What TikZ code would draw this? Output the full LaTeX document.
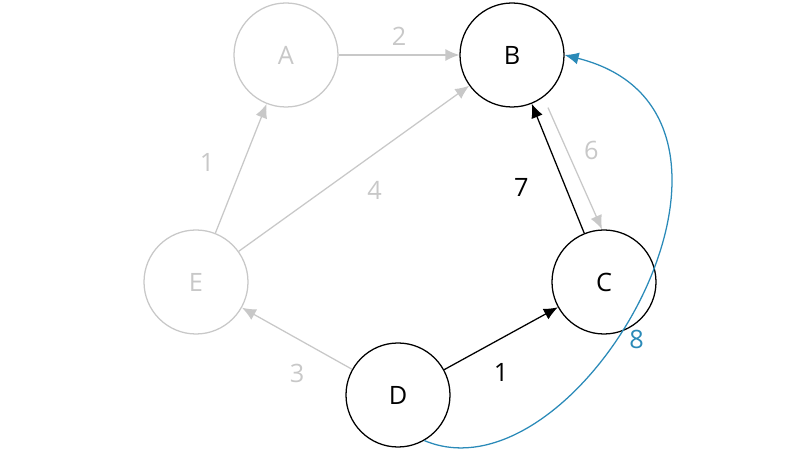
\documentclass[tikz,border=0pt]{standalone}
\usepackage{fontspec}
\setmainfont{Open Sans}
\usetikzlibrary{arrows.meta}
\definecolor{faded}{HTML}{C8C8C8}
\definecolor{hilite}{HTML}{2A8AB8}
\tikzset{%
  vertex/.style = {circle, draw, minimum size=2.6cm, inner sep=0pt,%
                   line width=0.9pt, font=\fontsize{18}{20}\selectfont},%
  ghost/.style  = {vertex, draw=faded, text=faded},%
  link/.style   = {-{Latex[length=3.5mm,width=3mm]}, line width=0.9pt},%
  dim/.style    = {link, draw=faded},%
  weight/.style = {font=\fontsize{18}{20}\selectfont}%
}
\begin{document}
\begin{tikzpicture}
	\useasboundingbox (0,0) rectangle (20,11.35);
	\node [ghost]  (A) at (7.15,9.975) {A};
	\node [vertex] (B) at (12.8,9.975) {B};
	\node [ghost]  (E) at (4.9,4.3)    {E};
	\node [vertex] (C) at (15.1,4.3)   {C};
	\node [vertex] (D) at (9.95,1.475) {D};
	% faded edges
	\draw [dim] (A) -- node [weight, above=1mm, text=faded] {2} (B);
	\draw [dim] (E) -- node [weight, left=6mm, pos=0.55, text=faded] {1} (A);
	\draw [dim] (E) -- node [weight, below right=2mm, text=faded] {4} (B);
	\draw [dim] ([xshift=9mm]B.south) -- node [weight, right=3mm, pos=0.35, text=faded] {6} ([xshift=-0.5mm]C.north);
	\draw [dim] (D) -- node [weight, below=5mm, text=faded] {3} (E);
	% tree edges
	\draw [link] (C) -- node [weight, left=8mm, pos=0.35] {7} (B);
	\draw [link] (D) -- node [weight, below=5mm] {1} (C);
	\draw [link, draw=hilite] (D.-60) .. controls (14.5,-1.3) and (20,8.5) ..
		node [weight, pos=0.42, right=2mm, text=hilite] {8} (B.east);
\end{tikzpicture}
\end{document}
